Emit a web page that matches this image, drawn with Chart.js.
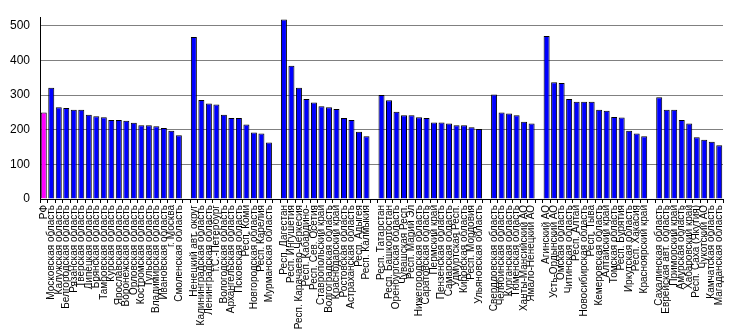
<!DOCTYPE html>
<html>
<head>
<meta charset="utf-8">
<script src="https://cdn.jsdelivr.net/npm/chart.js@4"></script>
<style>
body { margin: 0; background: #fff; }
</style>
</head>
<body>
<canvas id="myChart" width="735" height="334"></canvas>
<script>
const centralNames = ['РФ', 'Московская область', 'Калужская область', 'Белгородская область', 'Рязанская область', 'Тверская область', 'Липецкая область', 'Брянская область', 'Тамбовская область', 'Курская область', 'Ярославская область', 'Воронежская область', 'Орловская область', 'Костромская область', 'Тульская область', 'Владимирская область', 'Ивановская область', 'г. Москва', 'Смоленская область'];
const centralValues = [250, 321, 265, 263, 258, 258, 243, 239, 236, 228, 228, 226, 220, 213, 213, 210, 205, 197, 184];

const northwestNames = ['Ненецкий авт. округ', 'Калининградская область', 'Ленинградская область', 'г.С.-Петербург', 'Вологодская область', 'Архангельская область', 'Псковская область', 'Респ. Коми', 'Новгородская область', 'Респ. Карелия', 'Мурманская область'];
const northwestValues = [468, 286, 276, 273, 243, 234, 234, 215, 192, 189, 163];

const southNames = ['Респ. Дагестан', 'Респ. Ингушетия', 'Респ. Карачаево-Черкесия', 'Респ. Кабардино-', 'Респ. Сев. Осетия', 'Ставропольский край', 'Волгоградская область', 'Краснодарский край', 'Ростовская область', 'Астраханская область', 'Респ. Адыгея', 'Респ. Калмыкия'];
const southValues = [518, 385, 321, 289, 279, 268, 265, 260, 234, 228, 194, 181];

const volgaNames = ['Респ. Татарстан', 'Респ. Башкортостан', 'Оренбургская область', 'Чувашская Респ.', 'Респ. Марий Эл', 'Нижегородская область', 'Саратовская область', 'Пермский край', 'Пензенская область', 'Самарская область', 'Удмуртская Респ.', 'Кировская область', 'Респ. Мордовия', 'Ульяновская область'];
const volgaValues = [300, 285, 252, 242, 242, 236, 234, 221, 221, 218, 213, 213, 207, 202];

const uralNames = ['Свердловская область', 'Челябинская область', 'Курганская область', 'Тюменская область', 'Ханты-Мансийский АО', 'Ямало-Ненецкий АО'];
const uralValues = [302, 250, 247, 242, 223, 218];

const siberiaNames = ['Агинский АО', 'Усть-Ордынский АО', 'Омская область', 'Читинская область', 'Респ. Алтай', 'Новосибирская область', 'Респ. Тыва', 'Кемеровская область', 'Алтайский край', 'Томская область', 'Респ. Бурятия', 'Иркутская область', 'Респ. Хакасия', 'Красноярский край'];
const siberiaValues = [471, 337, 335, 289, 281, 281, 281, 258, 255, 237, 235, 197, 189, 181];

const farEastNames = ['Сахалинская область', 'Еврейская авт. область', 'Приморский край', 'Амурская область', 'Хабаровский край', 'Респ. Саха (Якутия)', 'Чукотский АО', 'Камчатская область', 'Магаданская область'];
const farEastValues = [294, 258, 258, 228, 218, 178, 171, 165, 155];

const yTicks = [0, 100, 200, 300, 400, 500];

// groups separated by one empty category
const groups = [
    [centralNames, centralValues],
    [northwestNames, northwestValues],
    [southNames, southValues],
    [volgaNames, volgaValues],
    [uralNames, uralValues],
    [siberiaNames, siberiaValues],
    [farEastNames, farEastValues]
];

const labels = [];
const values = [];
groups.forEach((g, i) => {
    if (i > 0) {
        labels.push('');
        values.push(null);
    }
    labels.push(...g[0]);
    values.push(...g[1]);
});

const colors = labels.map(l => l === 'РФ' ? '#ff00ff' : '#0000ff');

const ctx = document.getElementById('myChart').getContext('2d');

new Chart(ctx, {
    type: 'bar',
    data: {
        labels: labels,
        datasets: [{
            data: values,
            backgroundColor: colors,
            borderColor: '#000',
            borderWidth: 1,
            barPercentage: 0.8,
            categoryPercentage: 1
        }]
    },
    options: {
        responsive: false,
        animation: false,
        devicePixelRatio: 1,
        layout: { padding: { top: 0, right: 12, left: 0, bottom: 0 } },
        plugins: {
            legend: { display: false },
            tooltip: { enabled: false }
        },
        scales: {
            x: {
                grid: { display: true, drawOnChartArea: false, drawTicks: true, tickLength: 4, color: '#000', offset: true },
                border: { color: '#000' },
                ticks: {
                    autoSkip: false,
                    minRotation: 90,
                    maxRotation: 90,
                    padding: 2,
                    color: '#000',
                    font: { family: 'Liberation Sans', size: 10 }
                },
                afterFit: s => { s.height = 135; }
            },
            y: {
                min: 0,
                max: 525,
                afterBuildTicks: s => { s.ticks = yTicks.map(v => ({ value: v })); },
                grid: { color: '#808080', drawTicks: false },
                border: { color: '#000' },
                ticks: {
                    padding: 10,
                    color: '#000',
                    font: { family: 'Liberation Sans', size: 12 }
                },
                afterFit: s => { s.width = 40; }
            }
        }
    }
});
</script>
</body>
</html>
